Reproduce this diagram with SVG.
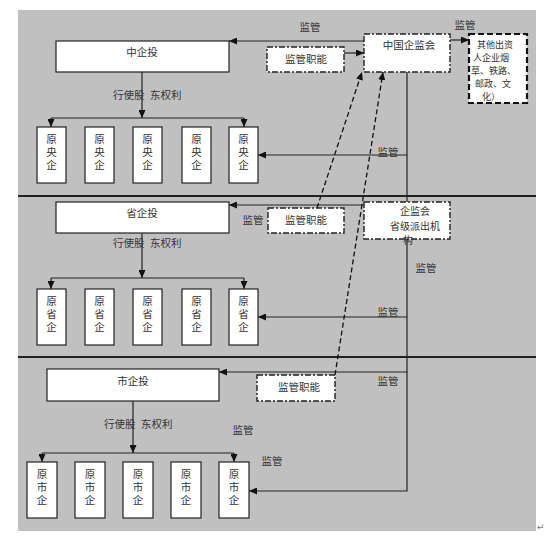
<svg xmlns="http://www.w3.org/2000/svg" width="554" height="548" viewBox="0 0 554 548">
<style>
.bg{fill:#c0c0c0}
.box{fill:#fff;stroke:#222;stroke-width:1.2}
.dd{fill:#fff;stroke:#222;stroke-width:1.4;stroke-dasharray:6 2 2 2}
.thick{fill:#fff;stroke:#111;stroke-width:2.2;stroke-dasharray:6 3}
.ln{fill:none;stroke:#222;stroke-width:1.2}
.sep{fill:none;stroke:#222;stroke-width:2}
.dash{fill:none;stroke:#111;stroke-width:1.3;stroke-dasharray:5 3}
text{font-family:"Noto Sans CJK SC","Noto Sans CJK TC",sans-serif;font-size:10.5px;fill:#333}
.c{text-anchor:middle}
.s{font-size:9px}
.v{writing-mode:vertical-rl;text-anchor:middle;letter-spacing:2.5px}
</style>
<defs>
<marker id="ah" markerUnits="userSpaceOnUse" markerWidth="8" markerHeight="7" refX="8" refY="3.5" orient="auto">
<path d="M0,0 L8,3.5 L0,7 z" fill="#111"/>
</marker>
</defs>
<rect class="bg" x="18" y="10" width="518" height="521"/>
<path class="sep" d="M18,196 H536 M18,357 H536"/>

<g id="connectors">
<path class="ln" d="M142,72 V118" marker-end="url(#ah)"/>
<path class="ln" d="M51,118 H244"/>
<path class="ln" d="M51,118 V127" marker-end="url(#ah)"/>
<path class="ln" d="M244,118 V127" marker-end="url(#ah)"/>
<path class="ln" d="M142,233 V278" marker-end="url(#ah)"/>
<path class="ln" d="M51,278 H244"/>
<path class="ln" d="M51,278 V289" marker-end="url(#ah)"/>
<path class="ln" d="M244,278 V289" marker-end="url(#ah)"/>
<path class="ln" d="M133,401 V453" marker-end="url(#ah)"/>
<path class="ln" d="M42,453 H234"/>
<path class="ln" d="M42,453 V462" marker-end="url(#ah)"/>
<path class="ln" d="M234,453 V462" marker-end="url(#ah)"/>
<path class="ln" d="M364,41 H229" marker-end="url(#ah)"/>
<path class="ln" d="M344,53 H364" marker-end="url(#ah)"/>
<path class="ln" d="M450,40 H469" marker-end="url(#ah)"/>
<path class="ln" d="M407,72 V491 H249" marker-end="url(#ah)"/>
<path class="ln" d="M407,155 H258" marker-end="url(#ah)"/>
<path class="ln" d="M364,205 H229" marker-end="url(#ah)"/>
<path class="ln" d="M407,317 H258" marker-end="url(#ah)"/>
<path class="ln" d="M407,372 H219" marker-end="url(#ah)"/>
<path class="dash" d="M317,208 L362,72" marker-end="url(#ah)"/>
<path class="dash" d="M335,375 L383,72" marker-end="url(#ah)"/>
<text class="c" x="310" y="31">监管</text>
<text class="c" x="465" y="29">监管</text>
<text class="c" x="388" y="156">监管</text>
<text class="c" x="253" y="224">监管</text>
<text class="c" x="426" y="272">监管</text>
<text class="c" x="388" y="316">监管</text>
<text class="c" x="388" y="385">监管</text>
<text class="c" x="243" y="434">监管</text>
<text class="c" x="272" y="465">监管</text>
<text x="113" y="99">行使股<tspan x="150">东权利</tspan></text>
<text x="113" y="247">行使股<tspan x="150">东权利</tspan></text>
<text x="104" y="428">行使股<tspan x="141">东权利</tspan></text>
</g>

<g id="zhongqitou"><rect class="box" x="56" y="41" width="173" height="31"/><text class="c" x="142" y="56">中企投</text></g>
<g id="shengqitou"><rect class="box" x="56" y="202" width="173" height="31"/><text class="c" x="142" y="217">省企投</text></g>
<g id="shiqitou"><rect class="box" x="47" y="369" width="172" height="32"/><text class="c" x="133" y="385">市企投</text></g>

<g id="zgqjh"><rect class="dd" x="364" y="34" width="86" height="38"/><text class="c" x="409" y="49">中国企监会</text></g>
<g id="qita"><rect class="thick" x="469" y="34" width="58" height="69"/>
<text class="s" x="477" y="48">其他出资</text>
<text class="s" x="473" y="61">人企业烟</text>
<text class="s" x="471" y="74">草、铁路、</text>
<text class="s" x="475" y="87">邮政、文</text>
<text class="s" x="482" y="100">化）</text></g>
<g id="qjh-sheng"><rect class="dd" x="364" y="202" width="86" height="37"/>
<text class="c" style="font-size:10px" x="415" y="215">企监会</text>
<text class="c" style="font-size:10px" x="415" y="229.5">省级派出机</text>
<text class="c" style="font-size:10px" x="408" y="244">构</text></g>
<g id="jgzn1"><rect class="dd" x="267" y="47" width="77" height="25"/><text class="c" x="306" y="63">监管职能</text></g>
<g id="jgzn2"><rect class="dd" x="268" y="208" width="76" height="25"/><text class="c" x="306" y="224">监管职能</text></g>
<g id="jgzn3"><rect class="dd" x="257" y="375" width="78" height="26"/><text class="c" x="299" y="391">监管职能</text></g>

<g id="yyq1"><rect class="box" x="37" y="127" width="29" height="56"/><text class="v" x="51.5" y="153">原央企</text></g>
<g id="yyq2"><rect class="box" x="85" y="127" width="29" height="56"/><text class="v" x="99.5" y="153">原央企</text></g>
<g id="yyq3"><rect class="box" x="133" y="127" width="29" height="56"/><text class="v" x="147.5" y="153">原央企</text></g>
<g id="yyq4"><rect class="box" x="182" y="127" width="29" height="56"/><text class="v" x="196.5" y="153">原央企</text></g>
<g id="yyq5"><rect class="box" x="229" y="127" width="29" height="56"/><text class="v" x="243.5" y="153">原央企</text></g>

<g id="ysq1"><rect class="box" x="37" y="289" width="29" height="56"/><text class="v" x="51.5" y="315">原省企</text></g>
<g id="ysq2"><rect class="box" x="85" y="289" width="29" height="56"/><text class="v" x="99.5" y="315">原省企</text></g>
<g id="ysq3"><rect class="box" x="133" y="289" width="29" height="56"/><text class="v" x="147.5" y="315">原省企</text></g>
<g id="ysq4"><rect class="box" x="182" y="289" width="29" height="56"/><text class="v" x="196.5" y="315">原省企</text></g>
<g id="ysq5"><rect class="box" x="229" y="289" width="29" height="56"/><text class="v" x="243.5" y="315">原省企</text></g>

<g id="ysh1"><rect class="box" x="27" y="462" width="30" height="56"/><text class="v" x="42" y="488">原市企</text></g>
<g id="ysh2"><rect class="box" x="75" y="462" width="30" height="56"/><text class="v" x="90" y="488">原市企</text></g>
<g id="ysh3"><rect class="box" x="123" y="462" width="30" height="56"/><text class="v" x="138" y="488">原市企</text></g>
<g id="ysh4"><rect class="box" x="171" y="462" width="30" height="56"/><text class="v" x="186" y="488">原市企</text></g>
<g id="ysh5"><rect class="box" x="219" y="462" width="30" height="56"/><text class="v" x="234" y="488">原市企</text></g>

<text x="537" y="530" style="font-family:'DejaVu Sans',sans-serif;font-size:9px;fill:#777">↵</text>
</svg>
